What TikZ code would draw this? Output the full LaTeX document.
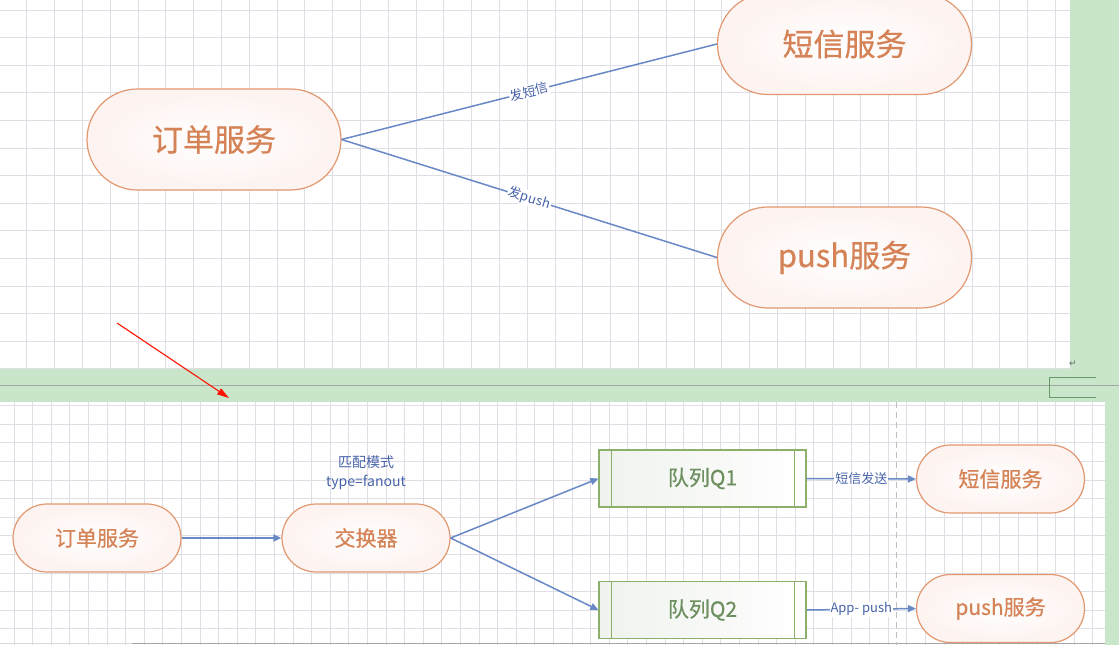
\documentclass[tikz,border=0pt]{standalone}
\usepackage{fontspec}
\usepackage{xcolor}
\usepackage{tikz}
\usetikzlibrary{arrows.meta,shapes.misc,positioning}
\newfontfamily\cjk{Noto Sans CJK SC}
\newfontfamily\cjkbold[FakeBold=0.6]{Noto Sans CJK SC}
\newfontfamily\symfont{DejaVu Sans}
\definecolor{pillline}{RGB}{226,152,112}
\definecolor{pilltext}{RGB}{212,130,86}
\definecolor{pillfill}{RGB}{253,243,240}
\definecolor{qline}{RGB}{140,176,106}
\definecolor{qtext}{RGB}{110,144,96}
\definecolor{qfill}{RGB}{239,242,237}
\definecolor{flow}{RGB}{104,136,198}
\definecolor{flowtext}{RGB}{70,98,168}
\definecolor{band}{RGB}{201,230,203}
\definecolor{gridc}{RGB}{222,222,228}
\tikzset{
  pill/.style={rounded rectangle, draw=pillline, line width=1.2pt, inner color=white,
    outer color=pillfill, text=pilltext, inner sep=0pt},
  bigpill/.style={pill, minimum width=254pt, minimum height=101pt, font=\cjkbold\fontsize{31}{36}\selectfont},
  smallpill/.style={pill, minimum width=168pt, minimum height=68pt, font=\cjkbold\fontsize{21}{25}\selectfont},
  queuebox/.style={rectangle, draw=qline, line width=1.2pt, left color=qfill, right color=white,
    text=qtext, minimum width=207pt, minimum height=57pt, inner sep=0pt, font=\cjkbold\fontsize{21}{25}\selectfont},
  flowline/.style={draw=flow, line width=1.5pt},
  flowarrow/.style={flowline, -{Triangle[width=7pt,length=8pt]}},
  flowlabel/.style={fill=white, inner sep=1pt, text=flowtext, font=\cjk\fontsize{13}{15}\selectfont},
  gridline/.style={draw=gridc, line width=0.8pt}
}
\begin{document}
\begin{tikzpicture}[x=1pt,y=-1pt]
   \useasboundingbox (0,0) rectangle (1119,645);
   % background: green page, two white panels
   \fill[band] (0,0) rectangle (1119,645);
   \fill[white] (0,0) rectangle (1070,369);
   \fill[white] (0,402) rectangle (1105,645);
   \begin{scope}
      \clip (0,0) rectangle (1070,369);
      \foreach \x in {-1,26.8,...,1075} \draw[gridline] (\x,0) -- (\x,369);
      \foreach \y in {10,37.6,...,370} \draw[gridline] (0,\y) -- (1070,\y);
   \end{scope}
   \begin{scope}
      \clip (0,402) rectangle (1105,645);
      \foreach \x in {14,32.6,...,1110} \draw[gridline] (\x,402) -- (\x,645);
      \foreach \y in {405.6,424.2,...,646} \draw[gridline] (0,\y) -- (1105,\y);
   \end{scope}
   \draw[gray!70, line width=1.2pt] (0,385.5) -- (1119,385.5);
   \draw[gray!80!green, line width=0.9pt] (1096,377) -- (1049,377) -- (1049,397) -- (1096,397);
   \node[text=gray!80!black, font=\symfont\fontsize{9}{10}\selectfont] (ret) at (1073,364) {↵};
   \draw[gray!30, line width=1.2pt] (0,643.5) -- (132,643.5);
   \draw[gray!70, line width=1.2pt] (132,643.5) -- (1105,643.5);
   \draw[gray!50, line width=1pt, dash pattern=on 6pt off 4pt] (896,402) -- (896,645);

   % top: order service calls both services directly
   \node[bigpill] (order) at (214,139.5) {订单服务};
   \node[bigpill] (sms) at (844.5,44) {短信服务};
   \node[bigpill] (push) at (844.5,257.5) {push服务};
   \draw[flowline] (order.east) -- node[flowlabel, sloped] {发短信} (sms.west);
   \draw[flowline] (order.east) -- node[flowlabel, sloped] {发push} (push.west);

   % red hint arrow
   \coordinate (redtail) at (117,323);
   \coordinate (redtip) at (229,398);
   \draw[red!85!orange, line width=1.1pt, -{Triangle[width=7pt,length=12pt]}] (redtail) -- (redtip);

   % bottom: fanout exchange
   \node[smallpill] (order2) at (97,538) {订单服务};
   \node[smallpill] (ex) at (366,538) {交换器};
   \node[above=10pt of ex, align=center, text=flowtext, font=\cjk\fontsize{14}{19}\selectfont] (mode) {匹配模式\\type=fanout};
   \node[queuebox] (q1) at (702.5,478.5) {队列Q1};
   \node[queuebox] (q2) at (702.5,610) {队列Q2};
   \foreach \q in {q1,q2} {
      \draw[qline, line width=1.2pt] ([xshift=13pt]\q.north west) -- ([xshift=13pt]\q.south west);
      \draw[qline, line width=1.2pt] ([xshift=-12pt]\q.north east) -- ([xshift=-12pt]\q.south east);
   }
   \node[smallpill] (sms2) at (1000.5,479) {短信服务};
   \node[smallpill] (push2) at (1000.5,608.5) {push服务};
   \draw[flowarrow] (order2.east) -- (ex.west);
   \draw[flowarrow] (ex.east) -- (q1.west);
   \draw[flowarrow] (ex.east) -- (q2.west);
   \draw[flowarrow] (q1.east) -- node[flowlabel] {短信发送} (sms2.west);
   \draw[flowarrow] (q2.east) -- node[flowlabel] {App- push} (push2.west);
\end{tikzpicture}
\end{document}
